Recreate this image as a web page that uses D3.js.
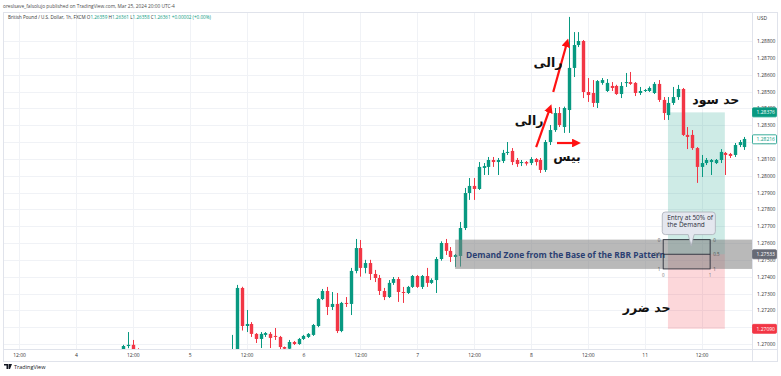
<!DOCTYPE html>
<html>
<head>
<meta charset="utf-8">
<script src="https://cdn.jsdelivr.net/npm/d3@7"></script>
<style>
  html, body { margin: 0; padding: 0; background: #fff; }
  svg { display: block; font-family: "Open Sans", "Noto Sans", sans-serif; }
</style>
</head>
<body>
<div id="chart"></div>
<script>
// ---- data (bar index = hours from Mar 1 12:00, weekends skipped)
const timeTicks = [0, 12, 24, 36, 48, 60, 72, 84, 96, 108, 120, 132, 144];
const timeLabels = ['12:00', '4', '12:00', '5', '12:00', '6', '12:00', '7', '12:00', '8', '12:00', '11', '12:00'];
const priceTicks = [1.270, 1.271, 1.272, 1.273, 1.274, 1.275, 1.276, 1.277, 1.278, 1.279,
                    1.280, 1.281, 1.282, 1.283, 1.284, 1.285, 1.286, 1.287, 1.288];

// [bar, open, high, low, close]
const candles = [
  [22,1.26968,1.26995,1.26955,1.26988],[23,1.26988,1.27071,1.26975,1.26995],
  [24,1.26995,1.27024,1.26950,1.26962],[25,1.26962,1.26975,1.26940,1.26955],
  [45,1.26900,1.27054,1.26880,1.26930],[46,1.26930,1.27351,1.26920,1.27333],
  [47,1.27333,1.27340,1.27080,1.27107],[48,1.27107,1.27202,1.27071,1.27119],
  [49,1.27119,1.27130,1.27042,1.27060],[50,1.27060,1.27065,1.27006,1.27030],
  [51,1.27030,1.27071,1.26976,1.27060],[52,1.27054,1.27071,1.27042,1.27065],
  [53,1.27060,1.27071,1.26976,1.27036],[54,1.27048,1.27095,1.27024,1.27042],
  [55,1.27042,1.27048,1.26965,1.26982],[56,1.26982,1.26985,1.26960,1.26972],
  [57,1.26972,1.27024,1.26965,1.27012],[58,1.27012,1.27018,1.26994,1.27000],
  [59,1.27000,1.27036,1.26995,1.27030],[60,1.27030,1.27054,1.27024,1.27048],
  [61,1.27042,1.27065,1.27036,1.27060],[62,1.27054,1.27119,1.27048,1.27113],
  [63,1.27107,1.27273,1.27100,1.27267],[64,1.27267,1.27327,1.27261,1.27315],
  [65,1.27315,1.27339,1.27172,1.27220],[66,1.27220,1.27309,1.27202,1.27238],
  [67,1.27238,1.27303,1.27065,1.27077],[68,1.27077,1.27250,1.27070,1.27244],
  [69,1.27244,1.27279,1.27220,1.27238],[70,1.27238,1.27452,1.27172,1.27434],
  [71,1.27434,1.27624,1.27420,1.27570],[72,1.27570,1.27618,1.27400,1.27452],
  [73,1.27452,1.27500,1.27420,1.27481],[74,1.27481,1.27500,1.27380,1.27416],
  [75,1.27416,1.27440,1.27368,1.27392],[76,1.27392,1.27410,1.27291,1.27315],
  [77,1.27315,1.27333,1.27261,1.27279],[78,1.27279,1.27380,1.27273,1.27363],
  [79,1.27363,1.27398,1.27351,1.27386],[80,1.27386,1.27398,1.27250,1.27309],
  [81,1.27309,1.27339,1.27244,1.27303],[82,1.27303,1.27345,1.27297,1.27339],
  [83,1.27339,1.27410,1.27333,1.27404],[84,1.27404,1.27410,1.27333,1.27339],
  [85,1.27339,1.27410,1.27327,1.27404],[86,1.27404,1.27452,1.27339,1.27363],
  [87,1.27363,1.27390,1.27357,1.27380],[88,1.27380,1.27517,1.27303,1.27505],
  [89,1.27505,1.27610,1.27495,1.27600],[90,1.27600,1.27624,1.27529,1.27553],
  [91,1.27553,1.27576,1.27487,1.27517],[92,1.27517,1.27535,1.27458,1.27529],
  [93,1.27523,1.27725,1.27460,1.27689],[94,1.27689,1.27927,1.27677,1.27897],
  [95,1.27897,1.27986,1.27856,1.27939],[96,1.27939,1.27986,1.27856,1.27921],
  [97,1.27921,1.28081,1.27915,1.28052],[98,1.28046,1.28075,1.28004,1.28057],
  [99,1.28052,1.28111,1.28004,1.28093],[100,1.28093,1.28111,1.28052,1.28081],
  [101,1.28081,1.28105,1.28004,1.28093],[102,1.28087,1.28153,1.28075,1.28135],
  [103,1.28135,1.28200,1.28123,1.28141],[104,1.28147,1.28164,1.28063,1.28081],
  [105,1.28093,1.28105,1.28052,1.28069],[106,1.28075,1.28093,1.28057,1.28081],
  [107,1.28081,1.28087,1.28060,1.28072],[108,1.28075,1.28110,1.28063,1.28099],
  [109,1.28099,1.28105,1.28060,1.28081],[110,1.28093,1.28105,1.28016,1.28034],
  [111,1.28034,1.28212,1.28022,1.28200],[112,1.28200,1.28301,1.28182,1.28271],
  [113,1.28271,1.28402,1.28260,1.28372],[114,1.28372,1.28408,1.28289,1.28301],
  [115,1.28289,1.28410,1.28254,1.28402],[116,1.28390,1.28943,1.28254,1.28640],
  [117,1.28640,1.28853,1.28586,1.28776],[118,1.28776,1.28853,1.28764,1.28800],
  [119,1.28800,1.28806,1.28461,1.28497],[120,1.28497,1.28580,1.28438,1.28479],
  [121,1.28491,1.28568,1.28408,1.28432],[122,1.28432,1.28568,1.28402,1.28562],
  [123,1.28551,1.28580,1.28540,1.28568],[124,1.28503,1.28574,1.28497,1.28551],
  [125,1.28533,1.28556,1.28503,1.28521],[126,1.28533,1.28540,1.28480,1.28485],
  [127,1.28485,1.28556,1.28461,1.28533],[128,1.28551,1.28610,1.28527,1.28556],
  [129,1.28556,1.28616,1.28539,1.28545],[130,1.28551,1.28556,1.28473,1.28491],
  [131,1.28491,1.28527,1.28479,1.28503],[132,1.28503,1.28515,1.28497,1.28509],
  [133,1.28503,1.28530,1.28497,1.28521],[134,1.28491,1.28556,1.28485,1.28545],
  [135,1.28545,1.28568,1.28438,1.28450],[136,1.28450,1.28467,1.28331,1.28372],
  [137,1.28360,1.28467,1.28331,1.28432],[138,1.28432,1.28527,1.28420,1.28467],
  [139,1.28467,1.28539,1.28450,1.28515],[140,1.28515,1.28521,1.28236,1.28242],
  [141,1.28242,1.28289,1.28158,1.28230],[142,1.28242,1.28271,1.28153,1.28164],
  [143,1.28164,1.28170,1.27957,1.28052],[144,1.28052,1.28123,1.27992,1.28075],
  [145,1.28075,1.28105,1.28063,1.28093],[146,1.28081,1.28099,1.28004,1.28093],
  [147,1.28075,1.28099,1.28069,1.28093],[148,1.28093,1.28158,1.28075,1.28141],
  [149,1.28135,1.28141,1.28004,1.28123],[150,1.28129,1.28135,1.28105,1.28117],
  [151,1.28123,1.28194,1.28111,1.28182],[152,1.28182,1.28212,1.28170,1.28200],
  [153,1.28170,1.28230,1.28153,1.28218]
];

// drawings
const tpPrice = 1.28376, entryPrice = 1.27533, slPrice = 1.27090, lastPrice = 1.28216;
const zoneTop = 1.27620, zoneBottom = 1.27446, zoneStart = 92;
const tradeStart = 136.9, tradeEnd = 148.9;
const fibStart = 135.9, fibEnd = 145.8;
const fibLevels = [0, 0.5, 1];
const bubbleLines = ['Entry at 50% of', 'the Demand'];
const bubbleBox = [135.7, 146.9, 1.27784, 1.27650];   // left bar, right bar, top price, bottom price
const bubbleTip = [141.8, 1.27582];
const arrows = [[112.7, 1.28497, 115.6, 1.28790], [109.1, 1.28170, 112.0, 1.28400], [113.5, 1.28194, 117.6, 1.28194]];
const notes = [['رالی', 111.6, 1.28675], ['رالی', 107.6, 1.28325], ['بیس', 115.6, 1.28111],
               ['حد سود', 147.0, 1.28450], ['حد ضرر', 132.4, 1.27214]];
const tagPrices = [tpPrice, lastPrice, entryPrice, slPrice];

// ---- layout
const W = 781, H = 376;
const plotL = 4, plotR = 752, plotT = 13, plotB = 349;
const up = '#089981', down = '#f23645';
const tagStyles = [
  {fill: up, stroke: up, text: '#fff'},
  {fill: '#fff', stroke: up, text: up},
  {fill: '#676a75', stroke: '#676a75', text: '#fff'},
  {fill: down, stroke: down, text: '#fff'}
];

const svg = d3.select('#chart').append('svg')
  .attr('width', W).attr('height', H);

const x = d3.scaleLinear().domain([0, 144]).range([19, 701.6]);
const y = d3.scaleLinear().domain([1.270, 1.288]).range([344, 41]);

svg.append('defs').append('clipPath').attr('id', 'plotClip')
  .append('rect').attr('x', plotL).attr('y', plotT)
  .attr('width', plotR - plotL).attr('height', plotB - plotT);

svg.select('defs').append('marker')
  .attr('id', 'head').attr('viewBox', '0 0 10 10')
  .attr('refX', 5).attr('refY', 5)
  .attr('markerWidth', 4).attr('markerHeight', 4)
  .attr('orient', 'auto')
  .append('path').attr('d', 'M0,0 L10,5 L0,10 Z').attr('fill', '#ff1212');

// header
svg.append('text').attr('x', 3).attr('y', 8)
  .attr('font-size', 4.8).attr('fill', '#4a4a4a')
  .text('oreslsave_falsolujo published on TradingView.com, Mar 25, 2024 20:00 UTC-4');

// frame
svg.append('rect').attr('x', 3.5).attr('y', 12.5).attr('width', 774).attr('height', 349)
  .attr('fill', 'none').attr('stroke', '#e0e3eb');
svg.append('line').attr('x1', plotR + 0.5).attr('x2', plotR + 0.5).attr('y1', 12.5).attr('y2', 361.5)
  .attr('stroke', '#e0e3eb');
svg.append('line').attr('x1', 3.5).attr('x2', 777.5).attr('y1', plotB + 0.5).attr('y2', plotB + 0.5)
  .attr('stroke', '#e0e3eb');

const plot = svg.append('g').attr('clip-path', 'url(#plotClip)');

// grid
plot.append('g').selectAll('line').data(priceTicks).join('line')
  .attr('x1', plotL).attr('x2', plotR)
  .attr('y1', d => Math.round(y(d)) + 0.5).attr('y2', d => Math.round(y(d)) + 0.5)
  .attr('stroke', '#f0f2f6');
plot.append('g').selectAll('line').data(timeTicks).join('line')
  .attr('x1', d => Math.round(x(d)) + 0.5).attr('x2', d => Math.round(x(d)) + 0.5)
  .attr('y1', plotT).attr('y2', plotB)
  .attr('stroke', '#f0f2f6');

// long position tool
plot.append('rect')
  .attr('x', x(tradeStart)).attr('width', x(tradeEnd) - x(tradeStart))
  .attr('y', y(tpPrice)).attr('height', y(entryPrice) - y(tpPrice))
  .attr('fill', up).attr('fill-opacity', 0.2);
plot.append('rect')
  .attr('x', x(tradeStart)).attr('width', x(tradeEnd) - x(tradeStart))
  .attr('y', y(entryPrice)).attr('height', y(slPrice) - y(entryPrice))
  .attr('fill', down).attr('fill-opacity', 0.2);

// candles
const bodyW = 3.4;
const candleG = plot.append('g');
candleG.selectAll('line').data(candles).join('line')
  .attr('x1', d => Math.round(x(d[0])) + 0.5).attr('x2', d => Math.round(x(d[0])) + 0.5)
  .attr('y1', d => y(d[2])).attr('y2', d => y(d[3]))
  .attr('stroke', d => d[4] >= d[1] ? up : down).attr('stroke-width', 1);
candleG.selectAll('rect').data(candles).join('rect')
  .attr('x', d => Math.round(x(d[0])) + 0.5 - bodyW / 2)
  .attr('width', bodyW)
  .attr('y', d => y(Math.max(d[1], d[4])))
  .attr('height', d => Math.max(1, Math.abs(y(d[1]) - y(d[4]))))
  .attr('fill', d => d[4] >= d[1] ? up : down);

// demand zone
plot.append('rect')
  .attr('x', x(zoneStart)).attr('width', plotR - x(zoneStart))
  .attr('y', y(zoneTop)).attr('height', y(zoneBottom) - y(zoneTop))
  .attr('fill', '#808080').attr('fill-opacity', 0.55);

svg.append('text')
  .attr('x', x(zoneStart) + 11).attr('y', y(entryPrice))
  .attr('dominant-baseline', 'central')
  .attr('font-size', 8.5).attr('font-weight', 'bold').attr('fill', '#2b3f72')
  .attr('textLength', 199).attr('lengthAdjust', 'spacingAndGlyphs')
  .text('Demand Zone from the Base of the RBR Pattern');

// fib box
const fibY = d3.scaleLinear().domain([0, 1]).range([y(zoneTop), y(zoneBottom)]);
const fib = svg.append('g');
fib.append('rect')
  .attr('x', x(fibStart)).attr('width', x(fibEnd) - x(fibStart))
  .attr('y', fibY(0)).attr('height', fibY(1) - fibY(0))
  .attr('fill', 'none').attr('stroke', '#2a2e39').attr('stroke-width', 0.9);
fib.append('line')
  .attr('x1', x(fibStart)).attr('x2', x(fibEnd))
  .attr('y1', fibY(0.5)).attr('y2', fibY(0.5))
  .attr('stroke', '#2a2e39').attr('stroke-width', 0.9);
fib.selectAll('text.l').data(fibLevels).join('text').attr('class', 'l')
  .attr('x', x(fibStart) - 3).attr('y', d => fibY(d))
  .attr('text-anchor', 'end').attr('dominant-baseline', 'central')
  .attr('font-size', 4.5).attr('fill', '#555').text(d => d);
fib.selectAll('text.r').data(fibLevels).join('text').attr('class', 'r')
  .attr('x', x(fibEnd) + 3).attr('y', d => fibY(d))
  .attr('dominant-baseline', 'central')
  .attr('font-size', 4.5).attr('fill', '#555').text(d => d);
fib.selectAll('text.b').data([0, 1]).join('text').attr('class', 'b')
  .attr('x', d => d === 0 ? x(fibStart) : x(fibEnd)).attr('y', fibY(1) + 6)
  .attr('text-anchor', 'middle').attr('dominant-baseline', 'central')
  .attr('font-size', 4.5).attr('fill', '#777').text(d => d);

// callout bubble
const bL = x(bubbleBox[0]), bR = x(bubbleBox[1]), bT = y(bubbleBox[2]), bB = y(bubbleBox[3]);
const tX = x(bubbleTip[0]), tY = y(bubbleTip[1]), r = 3;
const bubblePath = `M${bL + r},${bT} H${bR - r} Q${bR},${bT} ${bR},${bT + r} V${bB - r} Q${bR},${bB} ${bR - r},${bB}
  H${tX + 3} L${tX},${tY} L${tX - 3},${bB} H${bL + r} Q${bL},${bB} ${bL},${bB - r} V${bT + r} Q${bL},${bT} ${bL + r},${bT} Z`;
svg.append('path').attr('d', bubblePath)
  .attr('fill', '#e4e7ef').attr('stroke', '#a9adb8').attr('stroke-width', 0.8);
svg.append('g').selectAll('text').data(bubbleLines).join('text')
  .attr('x', bL + 5).attr('y', (d, i) => bT + 8 + i * 7)
  .attr('font-size', 6.5).attr('fill', '#2a2e39').text(d => d);

// arrows
svg.append('g').selectAll('line').data(arrows).join('line')
  .attr('x1', d => x(d[0])).attr('y1', d => y(d[1]))
  .attr('x2', d => x(d[2])).attr('y2', d => y(d[3]))
  .attr('stroke', '#ff1212').attr('stroke-width', 2.2)
  .attr('marker-end', 'url(#head)');

// arabic notes
svg.append('g').selectAll('text').data(notes).join('text')
  .attr('x', d => x(d[1])).attr('y', d => y(d[2]))
  .attr('text-anchor', 'middle').attr('dominant-baseline', 'central')
  .attr('font-family', '"DejaVu Sans", sans-serif')
  .attr('font-size', 12.5).attr('font-weight', 'bold').attr('fill', '#111')
  .text(d => d[0]);

// price axis
const yAxis = d3.axisRight(y).tickValues(priceTicks).tickSize(0).tickPadding(5)
  .tickFormat(d3.format('.5f'));
const yAxisG = svg.append('g').attr('transform', `translate(${plotR},0)`).call(yAxis);
yAxisG.select('.domain').remove();
yAxisG.selectAll('text').attr('font-size', 5).attr('fill', '#333').attr('font-family', '"Open Sans", sans-serif');

svg.append('text').attr('x', plotR + 5).attr('y', 18).attr('dominant-baseline', 'central')
  .attr('font-size', 5).attr('fill', '#333').text('USD');

// price tags (drawn over the axis labels they cover, as on the original)
const tags = svg.append('g').selectAll('g').data(tagPrices).join('g')
  .attr('transform', d => `translate(${plotR + 0.5},${y(d)})`);
tags.append('rect').attr('x', 0).attr('y', -4.5).attr('width', 24).attr('height', 9).attr('rx', 1)
  .attr('fill', (d, i) => tagStyles[i].fill).attr('stroke', (d, i) => tagStyles[i].stroke).attr('stroke-width', 0.8);
tags.append('text').attr('x', 4).attr('y', 0).attr('dominant-baseline', 'central')
  .attr('font-size', 5).attr('fill', (d, i) => tagStyles[i].text)
  .text(d => d3.format('.5f')(d));

// time axis
const xAxis = d3.axisBottom(x).tickValues(timeTicks).tickSize(0).tickPadding(4)
  .tickFormat((d, i) => timeLabels[i]);
const xAxisG = svg.append('g').attr('transform', `translate(0,${plotB})`).call(xAxis);
xAxisG.select('.domain').remove();
xAxisG.selectAll('text').attr('font-size', 5).attr('fill', '#333').attr('font-family', '"Open Sans", sans-serif');

// legend
const legend = svg.append('text').attr('x', 8).attr('y', 19).attr('font-size', 4.6).attr('fill', '#333');
legend.append('tspan').text('British Pound / U.S. Dollar, 1h, FXCM  ');
[['O', '1.26359'], ['H', '1.26361'], ['L', '1.26358'], ['C', '1.26361']].forEach(p => {
  legend.append('tspan').text(p[0]);
  legend.append('tspan').attr('fill', up).text(p[1] + ' ');
});
legend.append('tspan').attr('fill', up).text('+0.00002 (+0.00%)');

// footer logo
const logo = svg.append('g').attr('transform', 'translate(4,364)');
logo.append('path').attr('d', 'M0,0 H4 V5 H2.5 V1.5 H0 Z M4.5,0 H8 L6,5 H4.5 Z')
  .attr('fill', '#131722');
logo.append('text').attr('x', 10).attr('y', 3).attr('dominant-baseline', 'central')
  .attr('font-size', 5.5).attr('fill', '#131722').text('TradingView');
</script>
</body>
</html>
